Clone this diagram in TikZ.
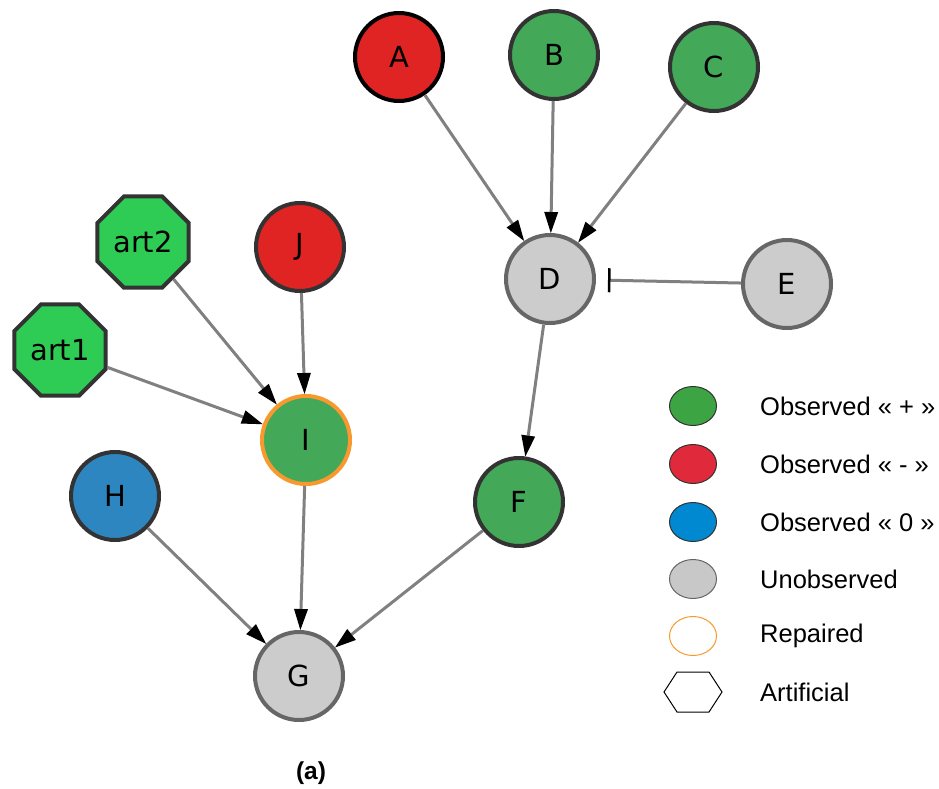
\documentclass[tikz,border=0pt]{standalone}
\usepackage{fontspec}
\setmainfont{Liberation Sans}
\newfontfamily\nodefont{DejaVu Sans}
\usetikzlibrary{arrows.meta,shapes.geometric}
\definecolor{obsgreen}{HTML}{43A857}
\definecolor{obsred}{HTML}{E02424}
\definecolor{obsblue}{HTML}{2E86C1}
\definecolor{ungray}{HTML}{CCCCCC}
\definecolor{unborder}{HTML}{666666}
\definecolor{artgreen}{HTML}{2ECC55}
\definecolor{repor}{HTML}{F7992E}
\definecolor{edgegray}{HTML}{808080}
\definecolor{darkb}{HTML}{333333}
\definecolor{lgreen}{HTML}{3DA444}
\definecolor{lred}{HTML}{E0293A}
\definecolor{lblue}{HTML}{0088D1}
\definecolor{lgray}{HTML}{C8C8C8}
\begin{document}
\begin{tikzpicture}[x=1pt,y=-1pt,
  nd/.style={circle, minimum size=88pt, inner sep=0pt, line width=4pt,
    font=\nodefont\fontsize{29}{32}\selectfont},
  green/.style={nd, fill=obsgreen, draw=darkb},
  red/.style={nd, fill=obsred, draw=darkb},
  blue/.style={nd, fill=obsblue, draw=darkb},
  gray/.style={nd, fill=ungray, draw=unborder},
  art/.style={regular polygon, regular polygon sides=8, minimum size=99pt, inner sep=0pt,
    line width=4pt, fill=artgreen, draw=darkb, font=\nodefont\fontsize{29}{32}\selectfont},
  edge/.style={draw=edgegray, line width=3pt, -{Triangle[length=21pt,width=14pt,color=black,line width=0pt]}},
  inhib/.style={draw=edgegray, line width=3pt, -{Bar[width=24pt,line width=2.5pt,color=black]}, shorten >=12pt},
  leg/.style={ellipse, minimum width=47pt, minimum height=39pt, inner sep=0pt, line width=1pt, draw=darkb},
  legtxt/.style={anchor=west, font=\fontsize{25.5}{28}\selectfont, inner sep=0pt}
]
\useasboundingbox (0,0) rectangle (939,789);

% nodes
\node[red, draw=black] (A) at (399,57) {A};
\node[green] (B) at (554,55) {B};
\node[green] (C) at (714,67) {C};
\node[gray] (D) at (550,279) {D};
\node[gray] (E) at (787,284) {E};
\node[red] (J) at (300,247) {J};
\node[art] (art2) at (143,242) {art2};
\node[art] (art1) at (60,350) {art1};
\node[green, draw=repor] (I) at (306,440) {I};
\node[blue] (H) at (115,496) {H};
\node[green] (F) at (519,502) {F};
\node[gray] (G) at (299,676) {G};

% edges
\draw[edge] (A) -- (D);
\draw[edge] (B) -- (D);
\draw[edge] (C) -- (D);
\draw[inhib] (E) -- (D);
\draw[edge] (D) -- (F);
\draw[edge] (J) -- (I);
\draw[edge] (art2) -- (I);
\draw[edge] (art1) -- (I);
\draw[edge] (I) -- (G);
\draw[edge] (H) -- (G);
\draw[edge] (F) -- (G);

% legend
\node[leg, fill=lgreen] (l1) at (693,406) {};
\node[leg, fill=lred] (l2) at (693,464) {};
\node[leg, fill=lblue] (l3) at (693,522) {};
\node[leg, fill=lgray, draw=unborder] (l4) at (693,579) {};
\node[leg, draw=repor] (l5) at (693,636) {};
\coordinate (l6) at (693,692);
\draw[line width=1pt, black] ([xshift=-29pt]l6) -- ([xshift=-16pt,yshift=-20pt]l6) -- ([xshift=16pt,yshift=-20pt]l6)
  -- ([xshift=29pt]l6) -- ([xshift=16pt,yshift=20pt]l6) -- ([xshift=-16pt,yshift=20pt]l6) -- cycle;

\node[legtxt] (t1) at (760,406) {Observed « + »};
\node[legtxt] (t2) at (760,464) {Observed « - »};
\node[legtxt] (t3) at (760,522) {Observed « 0 »};
\node[legtxt] (t4) at (760,579) {Unobserved};
\node[legtxt] (t5) at (760,636) {Repaired};
\node[legtxt] (t6) at (760,692) {Artificial};

\node[font=\bfseries\fontsize{24.5}{28}\selectfont] (cap) at (311,773) {(a)};
\end{tikzpicture}
\end{document}
